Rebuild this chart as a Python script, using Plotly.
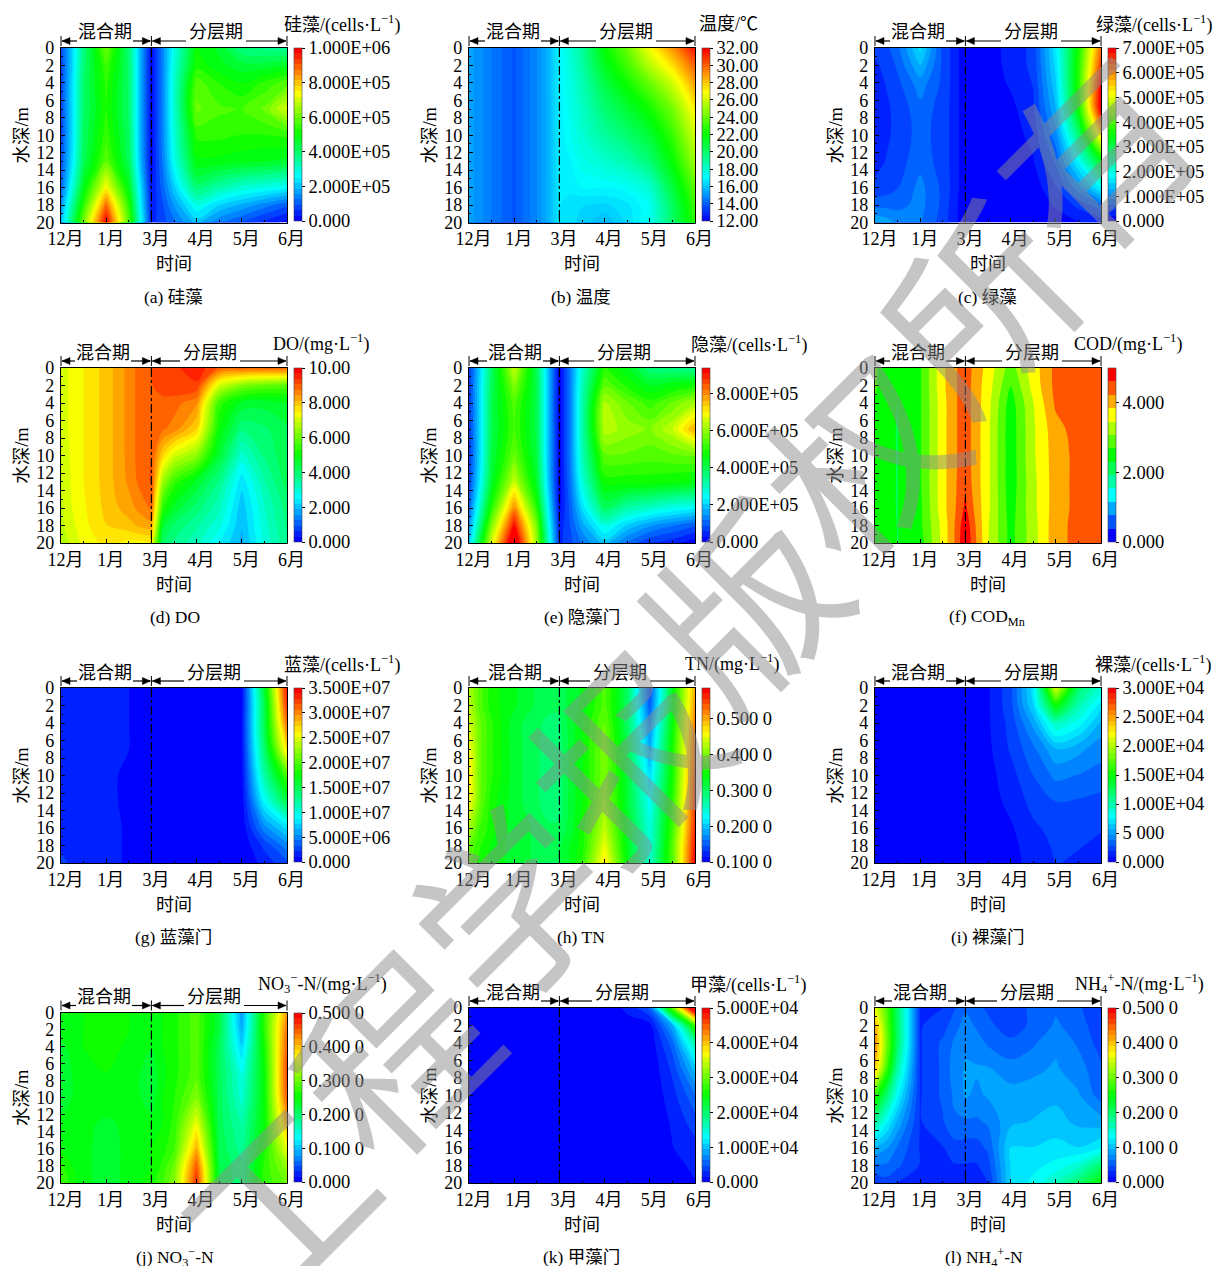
import plotly.graph_objects as go

W, H = 1214, 1266
FONT = "Liberation Serif, Noto Sans CJK SC"
CJK = "Noto Sans CJK SC"

months = ["\u00a0\u00a012月", "\u00a0\u00a01月", "\u00a0\u00a03月", "\u00a0\u00a04月", "\u00a0\u00a05月", "\u00a0\u00a06月"]
month_pos = [0, 1, 2, 3, 4, 5]
depth_ticks = list(range(0, 21, 2))
X = [0, .25, .5, 1, 1.5, 1.75, 2, 2.25, 2.5, 3, 3.5, 4, 4.5, 5]
D = [0, 2, 4, 7, 10, 13, 16, 18, 20]

# (a) diatoms, 1e5 cells/L
si_z = [
 [.8,2.2,3.8,6.0,3.9,1.9,.2,1.4,2.8,5.0,4.6,3.8,3.7,3.6],
 [.8,2.2,3.9,5.6,4.0,1.9,.2,1.4,2.9,5.2,4.8,4.5,4.5,4.7],
 [.8,2.3,4.0,5.4,4.0,1.9,.2,1.4,3.0,5.8,5.3,5.0,5.4,5.8],
 [.8,2.3,4.0,5.3,4.0,1.9,.2,1.4,3.0,6.0,5.7,5.6,6.0,7.0],
 [.8,2.3,4.1,5.5,4.1,1.9,.2,1.4,2.9,5.4,5.4,5.3,5.3,5.4],
 [.9,2.4,4.2,5.9,4.2,2.0,.2,1.3,2.7,4.9,4.9,4.8,4.7,4.6],
 [1.1,2.9,4.8,7.4,4.8,2.4,.3,1.1,2.1,3.9,3.4,3.0,2.8,2.6],
 [1.5,3.5,5.4,8.8,5.4,2.6,.4,.9,1.6,2.8,2.2,1.8,1.4,1.0],
 [1.9,4.0,6.2,9.9,5.8,2.9,.5,.8,1.2,2.0,1.3,.9,.5,.2],
]
# (b) temperature
temp_z = [
 [15.3,14.9,14.5,13.8,14.8,15.6,17.0,18,19,22,24,26.8,29,31.5],
 [15.3,14.9,14.5,13.8,14.8,15.6,16.9,17.8,18.8,21.4,23.2,25.5,27.5,30],
 [15.3,14.9,14.5,13.8,14.8,15.6,16.9,17.6,18.5,20.7,22.3,24,26,28.8],
 [15.3,14.9,14.5,13.8,14.8,15.6,16.8,17.5,18.2,19.8,21,22.3,24.2,27.2],
 [15.3,14.9,14.5,13.8,14.8,15.6,16.8,17.3,17.9,19,19.9,21,23,26],
 [15.3,14.9,14.5,13.8,14.8,15.6,16.8,17,17.5,18,18.6,19.8,22,25],
 [15.3,14.9,14.5,13.8,14.8,15.6,16.7,16.8,17,17,17.2,18,20.8,23.8],
 [15.3,14.9,14.5,13.8,14.8,15.6,16.7,16.5,16.4,16.3,16.6,17.3,20.2,23.2],
 [15.3,14.9,14.5,13.8,14.8,15.6,16.7,16.5,16.2,15.8,16.4,17.5,20,22.8],
]
# (c) green algae, 1e5 cells/L
green_z = [
 [.5,.6,.8,1.6,.6,.35,.05,.05,.12,.3,.5,1.7,3.6,6.2],
 [.4,.5,.7,1.3,.6,.35,.05,.05,.12,.28,.5,1.6,3.7,6.5],
 [.35,.45,.6,1.0,.6,.35,.05,.05,.1,.25,.45,1.5,3.7,6.9],
 [.3,.4,.5,.8,.55,.35,.05,.05,.1,.15,.4,1.3,3.5,7.0],
 [.3,.4,.5,.75,.55,.35,.05,.05,.08,.1,.3,1.0,2.7,5.4],
 [.35,.45,.55,.8,.55,.35,.05,.05,.05,.07,.2,.7,1.8,3.3],
 [.5,.55,.65,.95,.6,.35,.05,.04,.04,.05,.1,.4,1.0,1.8],
 [.8,.8,.8,.95,.6,.3,.05,.03,.03,.04,.06,.25,.5,.8],
 [1.3,1.2,1.05,.9,.55,.3,.05,.03,.03,.03,.04,.1,.2,.3],
]
# (d) DO
do_z = [
 [6.9,7.35,7.5,7.95,8.55,8.9,9.05,9.3,9.3,9.6,9.0,8.9,8.9,8.9],
 [6.9,7.35,7.5,7.95,8.55,8.9,9.05,9.15,9.3,9.3,7.0,6.2,5.9,5.8],
 [6.9,7.35,7.5,7.95,8.55,8.9,9.05,9.0,8.9,8.5,5.5,4.6,4.5,4.7],
 [6.9,7.35,7.5,7.95,8.55,8.9,9.05,8.8,8.6,7.8,5.0,3.8,4.0,4.3],
 [6.85,7.3,7.5,7.95,8.55,8.9,9.05,7.8,7.0,6.3,4.5,3.0,3.8,4.3],
 [6.85,7.25,7.5,7.95,8.5,8.85,9.1,6.5,5.5,4.6,3.7,2.3,3.4,4.2],
 [6.8,7.2,7.45,7.9,8.3,8.55,8.8,5.4,4.6,3.9,3.2,2.0,3.1,3.9],
 [6.8,7.1,7.4,7.8,8.0,8.2,8.3,4.5,4.0,3.5,2.9,1.9,3.0,3.8],
 [6.7,6.95,7.3,7.6,7.4,7.4,7.4,4.0,3.7,3.2,2.5,1.8,2.9,3.7],
]
# (e) cryptophytes, 1e5 cells/L
crypto_z = [
 [.6,2.1,3.8,6.4,3.9,1.9,.1,1.3,2.8,5.0,4.4,3.6,3.5,3.4],
 [.6,2.2,3.9,5.8,4.0,1.9,.1,1.3,3.0,5.5,4.9,4.4,4.6,4.8],
 [.6,2.2,4.0,5.4,4.0,1.9,.1,1.3,3.1,6.2,5.6,5.1,5.6,6.2],
 [.6,2.2,4.0,5.3,4.0,1.9,.1,1.3,3.1,6.3,6.0,5.8,6.4,7.7],
 [.6,2.2,4.1,5.6,4.1,1.9,.1,1.3,3.0,5.5,5.5,5.4,5.5,5.6],
 [.7,2.4,4.3,6.4,4.3,2.0,.1,1.2,2.7,4.8,4.8,4.8,4.7,4.6],
 [1.0,3.0,5.0,8.0,5.0,2.4,.2,1.0,2.1,3.8,3.2,2.9,2.6,2.4],
 [1.4,3.6,5.8,9.1,5.7,2.7,.4,.9,1.6,2.7,2.0,1.5,1.2,.9],
 [1.9,4.3,6.6,10.0,6.0,3.0,.5,.8,1.2,1.9,1.1,.6,.4,.1],
]
# (f) COD
cod_z = [
 [2.75,2.5,2.35,2.65,3.75,4.15,4.45,4.05,3.7,2.9,3.65,4.35,4.45,4.45],
 [2.75,2.45,2.35,2.65,3.75,4.15,4.45,4.0,3.65,2.7,3.6,4.35,4.45,4.45],
 [2.65,2.4,2.3,2.65,3.7,4.15,4.45,4.0,3.6,2.5,3.45,4.3,4.45,4.45],
 [2.6,2.35,2.3,2.65,3.7,4.15,4.45,4.0,3.55,2.45,3.4,4.1,4.4,4.45],
 [2.55,2.35,2.3,2.65,3.7,4.15,4.45,4.0,3.55,2.45,3.4,4.05,4.35,4.45],
 [2.5,2.35,2.3,2.65,3.7,4.15,4.5,4.0,3.55,2.45,3.35,4.05,4.35,4.45],
 [2.5,2.35,2.3,2.6,3.7,4.15,4.7,4.05,3.55,2.5,3.35,4.05,4.35,4.45],
 [2.6,2.4,2.3,2.6,3.6,4.2,4.9,4.15,3.5,2.55,3.3,4.1,4.35,4.45],
 [2.7,2.5,2.3,2.5,3.6,4.2,5.0,4.2,3.5,2.55,3.3,4.1,4.35,4.45],
]
# (g) cyanobacteria, 1e6 cells/L
cyano_z = [
 [1.2,1.3,1.4,2.0,1.1,.8,.2,.1,.1,.1,.2,.8,16,34],
 [1.2,1.3,1.4,1.7,1.1,.8,.2,.1,.1,.1,.2,.8,15,33],
 [1.6,1.4,1.3,1.3,1.1,.8,.2,.1,.1,.1,.2,1.0,15,31],
 [1.6,1.4,1.3,1.2,1.1,.8,.2,.1,.1,.1,.2,.9,14,27],
 [1.2,1.2,1.2,1.2,1.0,.8,.2,.1,.1,.1,.2,.7,12,20],
 [1.2,1.2,1.2,1.2,1.0,.8,.2,.1,.1,.1,.1,.5,9,15],
 [1.5,1.5,1.4,1.3,1.0,.7,.2,.1,.1,.1,.1,.3,5,8],
 [2.0,1.8,1.6,1.3,1.0,.7,.2,.1,.1,.1,.1,.2,2.5,5],
 [2.5,2.0,1.7,1.3,1.0,.7,.2,.1,.1,.1,.1,.1,1.5,3],
]
# (h) TN
tn_z = [
 [.42,.38,.35,.33,.31,.30,.30,.32,.33,.38,.30,.14,.33,.50],
 [.43,.38,.35,.33,.31,.30,.30,.32,.33,.38,.30,.15,.33,.51],
 [.44,.39,.36,.32,.30,.295,.295,.32,.34,.39,.30,.17,.34,.52],
 [.46,.39,.36,.32,.30,.29,.29,.32,.34,.40,.31,.19,.35,.53],
 [.47,.39,.36,.32,.30,.29,.29,.32,.34,.40,.32,.21,.35,.54],
 [.46,.39,.35,.32,.30,.29,.29,.32,.34,.41,.32,.23,.36,.55],
 [.42,.37,.35,.32,.31,.30,.30,.32,.35,.43,.33,.24,.37,.56],
 [.39,.36,.34,.32,.31,.30,.31,.33,.35,.45,.33,.24,.38,.57],
 [.38,.35,.34,.32,.31,.31,.31,.33,.36,.47,.34,.25,.38,.58],
]
# (i) euglena, 1e3 cells/L
eug_z = [
 [0,0,0,0,0,0,0,.3,.8,2.5,7,21,12,9],
 [0,0,0,0,0,0,0,.3,.8,2.5,6.5,15,10,7],
 [0,0,0,0,0,0,0,.3,.8,2.2,5,9.5,8,5.5],
 [0,0,0,0,0,0,0,.3,.7,2,3.5,5.5,5,4],
 [0,0,0,0,0,0,0,.2,.6,1.5,2.8,4,3.7,3.5],
 [0,0,0,0,0,0,0,.2,.5,1.2,2.2,2.8,2.7,2.4],
 [0,0,0,0,0,0,0,.2,.4,.8,1.7,2.2,2.0,1.9],
 [0,0,0,0,0,0,0,.1,.3,.6,1.5,2,1.9,1.8],
 [0,0,0,0,0,0,0,.1,.3,.5,1.4,1.9,1.8,1.7],
]
# (j) NO3-N
no3_z = [
 [.24,.25,.25,.265,.25,.245,.24,.25,.26,.29,.22,.08,.27,.42],
 [.24,.245,.25,.26,.25,.245,.24,.25,.26,.29,.22,.09,.27,.44],
 [.23,.24,.25,.26,.245,.24,.235,.25,.26,.29,.21,.11,.26,.45],
 [.22,.235,.245,.25,.24,.235,.225,.245,.26,.29,.21,.14,.25,.46],
 [.22,.235,.245,.25,.24,.235,.225,.25,.265,.31,.21,.15,.25,.45],
 [.24,.24,.24,.23,.24,.24,.24,.25,.27,.36,.21,.17,.25,.41],
 [.25,.245,.24,.225,.24,.245,.25,.26,.28,.41,.215,.18,.26,.36],
 [.27,.25,.24,.225,.24,.25,.25,.27,.30,.45,.22,.19,.27,.32],
 [.28,.26,.24,.225,.24,.25,.26,.28,.31,.47,.22,.19,.27,.30],
]
# (k) dinoflagellates, 1e3 cells/L
dino_z = [
 [.2,.2,.2,.2,.1,.1,.1,.1,.1,.2,2,5,30,55],
 [.2,.2,.2,.2,.1,.1,.1,.1,.1,.1,.8,1,9,28],
 [.2,.2,.2,.2,.1,.1,.1,.1,.1,.1,.3,.4,5.5,17],
 [.2,.2,.2,.2,.1,.1,.1,.1,.1,.1,.2,.2,3.5,10],
 [.2,.2,.2,.2,.1,.1,.1,.1,.1,.1,.2,.2,2.5,6],
 [.2,.2,.2,.2,.1,.1,.1,.1,.1,.1,.2,.2,1.8,4],
 [.2,.2,.2,.2,.1,.1,.1,.1,.1,.1,.2,.2,1.5,2.5],
 [.2,.2,.2,.2,.1,.1,.1,.1,.1,.1,.1,.1,1.2,1.8],
 [.2,.2,.2,.2,.1,.1,.1,.1,.1,.1,.1,.1,1.0,1.5],
]
# (l) NH4-N
nh4_z = [
 [.36,.29,.20,.03,.03,.045,.06,.05,.045,.04,.05,.06,.05,.03],
 [.41,.30,.20,.03,.04,.055,.07,.06,.05,.04,.05,.065,.055,.035],
 [.43,.31,.20,.03,.05,.065,.075,.07,.06,.05,.06,.075,.06,.04],
 [.40,.28,.17,.03,.05,.07,.08,.08,.08,.07,.075,.08,.07,.05],
 [.27,.20,.13,.03,.05,.065,.08,.075,.08,.085,.085,.09,.08,.055],
 [.18,.13,.09,.03,.045,.06,.06,.06,.065,.09,.095,.10,.09,.085],
 [.09,.08,.06,.03,.03,.04,.04,.04,.05,.11,.11,.115,.11,.125],
 [.06,.06,.05,.03,.025,.03,.03,.03,.04,.11,.12,.13,.15,.20],
 [.03,.04,.03,.02,.02,.02,.02,.02,.03,.11,.13,.16,.20,.25],
]

si_ticks = ["0.000","2.000E+05","4.000E+05","6.000E+05","8.000E+05","1.000E+06"]
temp_ticks = ["12.00","14.00","16.00","18.00","20.00","22.00","24.00","26.00","28.00","30.00","32.00"]
green_ticks = ["0.000","1.000E+05","2.000E+05","3.000E+05","4.000E+05","5.000E+05","6.000E+05","7.000E+05"]
do_ticks = ["0.000","2.000","4.000","6.000","8.000","10.00"]
crypto_ticks = ["0.000","2.000E+05","4.000E+05","6.000E+05","8.000E+05"]
cod_ticks = ["0.000","2.000","4.000"]
cyano_ticks = ["0.000","5.000E+06","1.000E+07","1.500E+07","2.000E+07","2.500E+07","3.000E+07","3.500E+07"]
tn_ticks = ["0.100 0","0.200 0","0.300 0","0.400 0","0.500 0"]
eug_ticks = ["0.000","5 000","1.000E+04","1.500E+04","2.000E+04","2.500E+04","3.000E+04"]
mg_ticks = ["0.000","0.100 0","0.200 0","0.300 0","0.400 0","0.500 0"]
dino_ticks = ["0.000","1.000E+04","2.000E+04","3.000E+04","4.000E+04","5.000E+04"]

L1, L2, L3 = 61, 469, 875
PANELS = [
 dict(cap="(a) 硅藻", z=si_z, rng=(0,10), n=32, tv=[0,2,4,6,8,10], tt=si_ticks, l=L1, t=48, b=222.5, cb=(48,221),
      title="硅藻/(cells·L<sup>−1</sup>)", tp=(342,24), cp=(173.5,297), mix=44, strat=155),
 dict(cap="(b) 温度", z=temp_z, rng=(12,32), n=64, tv=list(range(12,33,2)), tt=temp_ticks, l=L2, t=48, b=222.5, cb=(48,221),
      title="温度/℃", tp=(729,24), cp=(581,297), mix=44, strat=157),
 dict(cap="(c) 绿藻", z=green_z, rng=(0,7), n=32, tv=list(range(8)), tt=green_ticks, l=L3, t=48, b=222.5, cb=(48,221),
      title="绿藻/(cells·L<sup>−1</sup>)", tp=(1154,24), cp=(987,297), mix=43, strat=156),
 dict(cap="(d) DO", z=do_z, rng=(0,10), n=32, tv=[0,2,4,6,8,10], tt=do_ticks, l=L1, t=368, b=543, cb=(368,541.5),
      title="DO/(mg·L<sup>−1</sup>)", tp=(321,343), cp=(175,617), mix=42, strat=149),
 dict(cap="(e) 隐藻门", z=crypto_z, rng=(0,9.35), n=32, tv=[0,2,4,6,8], tt=crypto_ticks, l=L2, t=368, b=543, cb=(368,541.5),
      title="隐藻/(cells·L<sup>−1</sup>)", tp=(749,344), cp=(581.5,617), mix=46, strat=155),
 dict(cap="(f) COD<sub>Mn</sub>", z=cod_z, rng=(0,5), n=13, tv=[0,2,4], tt=cod_ticks, l=L3, t=368, b=543, cb=(368,541.5),
      title="COD/(mg·L<sup>−1</sup>)", tp=(1128,343), cp=(987,617), mix=43, strat=157),
 dict(cap="(g) 蓝藻门", z=cyano_z, rng=(0,35), n=32, tv=[0,5,10,15,20,25,30,35], tt=cyano_ticks, l=L1, t=688, b=863, cb=(688,861.5),
      title="蓝藻/(cells·L<sup>−1</sup>)", tp=(342,664), cp=(173,937), mix=44, strat=153),
 dict(cap="(h) TN", z=tn_z, rng=(.1,.586), n=32, tv=[.1,.2,.3,.4,.5], tt=tn_ticks, l=L2, t=688, b=863, cb=(688,861.5),
      title="TN/(mg·L<sup>−1</sup>)", tp=(731.5,663), cp=(581,937), mix=45.5, strat=151),
 dict(cap="(i) 裸藻门", z=eug_z, rng=(0,30), n=32, tv=[0,5,10,15,20,25,30], tt=eug_ticks, l=L3, t=688, b=863, cb=(688,861.5),
      title="裸藻/(cells·L<sup>−1</sup>)", tp=(1153,664), cp=(987,937), mix=43, strat=156),
 dict(cap="(j) NO<sub>3</sub><sup>−</sup>-N", z=no3_z, rng=(0,.5), n=32, tv=[0,.1,.2,.3,.4,.5], tt=mg_ticks, l=L1, t=1012.5, b=1183, cb=(1013,1181.5),
      title="NO<sub>3</sub><sup>−</sup>-N/(mg·L<sup>−1</sup>)", tp=(322,983), cp=(175,1257), mix=43, strat=153),
 dict(cap="(k) 甲藻门", z=dino_z, rng=(0,50), n=32, tv=[0,10,20,30,40,50], tt=dino_ticks, l=L2, t=1008, b=1183, cb=(1008,1181.5),
      title="甲藻/(cells·L<sup>−1</sup>)", tp=(748,984), cp=(581,1257), mix=44, strat=153),
 dict(cap="(l) NH<sub>4</sub><sup>+</sup>-N", z=nh4_z, rng=(0,.5), n=32, tv=[0,.1,.2,.3,.4,.5], tt=mg_ticks, l=L3, t=1008, b=1183, cb=(1008,1181.5),
      title="NH<sub>4</sub><sup>+</sup>-N/(mg·L<sup>−1</sup>)", tp=(1139,983), cp=(984,1257), mix=45, strat=152),
]
WM_CHARS = ["工","程","学","报","版","权","所","有"]
WM_POS = [(270,1200),(387,1050),(504,900),(621,750),(738,600),(855,450),(972,300),(1089,150)]

PW = 226
JET = [[0,"#0000ff"],[.25,"#00ffff"],[.5,"#00ff00"],[.75,"#ffff00"],[1,"#ff0000"]]
px = lambda v: v / W
py = lambda v: 1 - v / H

fig = go.Figure()
layout = {}
annos, shapes = [], []

def text(s, x, y, size, angle=0, family=FONT, color="black"):
    annos.append(dict(text=s, x=px(x), y=py(y), xref="paper", yref="paper", showarrow=False,
                      xanchor="center", yanchor="middle", textangle=angle,
                      font=dict(family=family, size=size, color=color)))

def arrow(tip, tail, y):
    d = 1 if tail > tip else -1
    shapes.append(dict(type="line", xref="paper", yref="paper", x0=px(tip), x1=px(tail),
                       y0=py(y), y1=py(y), line=dict(color="black", width=1.2)))
    path = f"M {px(tip)} {py(y)} L {px(tip + d * 8)} {py(y - 3.5)} L {px(tip + d * 8)} {py(y + 3.5)} Z"
    shapes.append(dict(type="path", xref="paper", yref="paper", path=path,
                       fillcolor="black", line=dict(color="black", width=0.5)))

for i, p in enumerate(PANELS):
    k = "" if i == 0 else str(i + 1)
    lo, hi = p["rng"]
    size = (hi - lo) / p["n"]
    cb_top, cb_bot = p["cb"]
    fig.add_trace(go.Contour(
        x=X, y=D, z=p["z"], xaxis="x" + k, yaxis="y" + k,
        colorscale=JET, zauto=False, zmin=lo, zmax=hi,
        contours=dict(coloring="fill", showlines=False, start=lo + size, end=hi - size, size=size),
        line=dict(width=0), hoverinfo="skip",
        colorbar=dict(x=px(p["l"] + PW + 7), xanchor="left", xpad=0,
                      y=py(cb_top), yanchor="top", ypad=0,
                      len=cb_bot - cb_top, lenmode="pixels", thickness=8, thicknessmode="pixels",
                      tickmode="array", tickvals=p["tv"], ticktext=p["tt"], ticks="outside", ticklen=3,
                      tickcolor="black", tickwidth=1, outlinewidth=0.6, outlinecolor="#444",
                      tickfont=dict(family=FONT, size=18.5, color="black")),
    ))
    layout["xaxis" + k] = dict(
        domain=[px(p["l"]), px(p["l"] + PW)], anchor="y" + k, range=[0, 5], showgrid=False, zeroline=False,
        tickmode="array", tickvals=month_pos, ticktext=months, ticks="inside", ticklen=4,
        tickcolor="black", showline=True, mirror=True, linecolor="black", linewidth=1.3,
        minor=dict(ticks="inside", ticklen=2, dtick=.5, tick0=0, tickcolor="black", showgrid=False),
        tickfont=dict(family=FONT, size=18, color="black"),
        title=dict(text="时间", standoff=9, font=dict(family=FONT, size=18, color="black")),
    )
    layout["yaxis" + k] = dict(
        domain=[py(p["b"]), py(p["t"])], anchor="x" + k, range=[20, 0], showgrid=False, zeroline=False,
        tickmode="array", tickvals=depth_ticks, ticks="inside", ticklen=4,
        tickcolor="black", showline=True, mirror=True, linecolor="black", linewidth=1.3,
        minor=dict(ticks="inside", ticklen=2, dtick=1, tick0=0, tickcolor="black", showgrid=False),
        tickfont=dict(family=FONT, size=18, color="black"), ticklabelstandoff=2,
        title=dict(text="水深/m", standoff=2, font=dict(family=FONT, size=18.5, color="black")),
    )
    # boundary between mixing and stratified periods
    shapes.append(dict(type="line", xref="x" + k, yref="y" + k, x0=2, x1=2, y0=0, y1=20,
                       line=dict(color="black", width=1.2, dash="dashdot")))
    left, mid, right = p["l"], p["l"] + PW * 2 / 5, p["l"] + PW
    ya = p["t"] - 7
    for xx in (left, mid, right):
        shapes.append(dict(type="line", xref="paper", yref="paper", x0=px(xx), x1=px(xx),
                           y0=py(ya - 5), y1=py(ya + 5), line=dict(color="black", width=1)))
    text("混合期", left + p["mix"], p["t"] - 15.5, 18)
    text("分层期", left + p["strat"], p["t"] - 15.5, 18)
    arrow(left + 1, left + p["mix"] - 28, ya)
    arrow(mid - 1, left + p["mix"] + 28, ya)
    arrow(mid + 1, left + p["strat"] - 30, ya)
    arrow(right - 1, left + p["strat"] + 30, ya)
    text(p["title"], p["tp"][0], p["tp"][1], 18)
    text(p["cap"], p["cp"][0], p["cp"][1], 17.5)

for ch, pos in zip(WM_CHARS, WM_POS):
    text(ch, pos[0], pos[1], 185, angle=-45, family=CJK, color="rgba(140,140,140,0.5)")

fig.update_layout(width=W, height=H, margin=dict(l=0, r=0, t=0, b=0, autoexpand=False), autosize=False,
                  paper_bgcolor="white", plot_bgcolor="white", showlegend=False,
                  annotations=annos, shapes=shapes, **layout)
fig.write_html("out.html", config={"displayModeBar": False}, post_script="document.body.style.margin='0';")
